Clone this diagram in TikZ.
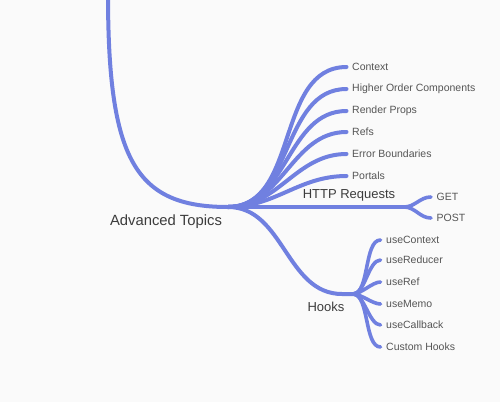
\documentclass[tikz,border=0pt]{standalone}
\usepackage{fontspec}
\setmainfont{Liberation Sans}
\usetikzlibrary{positioning}
\definecolor{mmblue}{RGB}{112,128,224}
\definecolor{mmtext}{RGB}{60,60,60}
\definecolor{mmleaf}{RGB}{85,85,85}
\tikzset{
    branch/.style={
           draw=mmblue,
           line width=4pt,
           line cap=round,
           },
    twig/.style={
           draw=mmblue,
           line width=3.6pt,
           line cap=round,
           },
    topic/.style={
           text=mmtext,
           font=\fontsize{13}{15}\selectfont,
           inner sep=0pt,
           },
    leaf/.style={
           anchor=west,
           text=mmleaf,
           font=\fontsize{10.5}{12}\selectfont,
           inner sep=5.5pt,
           },
}

\begin{document}
\begin{tikzpicture}[x=1pt,y=-1pt]
 \fill[black!2] (0,0) rectangle (500,402);
 \useasboundingbox (0,0) rectangle (500,402);

 % main topic
 \coordinate (ROOT) at (108,-6);
 \coordinate (ADV) at (228,207);
 \node[topic,font=\fontsize{14.8}{17}\selectfont] (ADVTEXT) at (166,222) {Advanced Topics};
 \draw[branch] (ROOT) .. controls (108,160) and (135,207) .. (ADV);

 % leaves of advanced topics
 \node[leaf] (CTX) at (346.5,67) {Context};
 \node[leaf] (HOC) at (346.5,89) {Higher Order Components};
 \node[leaf] (RENDER) at (346.5,111) {Render Props};
 \node[leaf] (REFS) at (346.5,132) {Refs};
 \node[leaf] (ERR) at (346.5,154) {Error Boundaries};
 \node[leaf] (PORTALS) at (346.5,176) {Portals};
 \foreach \leaf in {CTX,HOC,RENDER,REFS,ERR,PORTALS}
   \draw[branch] (ADV) to[out=0,in=180] (\leaf.west);

 % http requests
 \node[topic] (HTTP) at (349,195) {HTTP Requests};
 \coordinate (HTTPEND) at (404,207);
 \draw[branch] (ADV) -- (HTTPEND);
 \node[leaf] (GET) at (431,197) {GET};
 \node[leaf] (POST) at (431,218) {POST};
 \foreach \leaf in {GET,POST}
   \draw[twig] (HTTPEND) to[out=0,in=180] (\leaf.west);

 % hooks
 \node[topic] (HOOKS) at (326,307) {Hooks};
 \coordinate (HOOKSIN) at (342,294);
 \coordinate (HOOKSEND) at (353,294);
 \draw[branch] (ADV) to[out=0,in=180] (HOOKSIN) -- (HOOKSEND);
 \node[leaf] (UCTX) at (380.5,240) {useContext};
 \node[leaf] (URED) at (380.5,260) {useReducer};
 \node[leaf] (UREF) at (380.5,282) {useRef};
 \node[leaf] (UMEMO) at (380.5,304) {useMemo};
 \node[leaf] (UCB) at (380.5,325) {useCallback};
 \node[leaf] (CUSTOM) at (380.5,347) {Custom Hooks};
 \foreach \leaf in {UCTX,URED,UREF,UMEMO,UCB,CUSTOM}
   \draw[twig] (HOOKSEND) to[out=0,in=180,looseness=0.7] (\leaf.west);
\end{tikzpicture}
\end{document}
